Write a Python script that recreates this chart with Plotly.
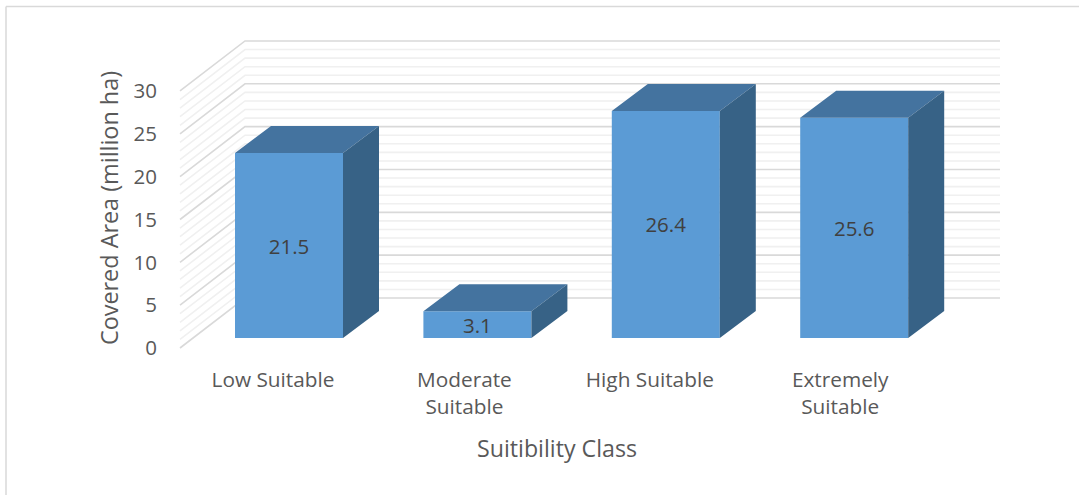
import plotly.graph_objects as go

categories = ["Low Suitable", "Moderate<br>Suitable", "High Suitable", "Extremely<br>Suitable"]
values = [21.5, 3.1, 26.4, 25.6]
value_labels = ["21.5", "3.1", "26.4", "25.6"]
major_ticks = [0, 5, 10, 15, 20, 25, 30]
minor_ticks = [1, 2, 3, 4, 6, 7, 8, 9, 11, 12, 13, 14, 16, 17, 18, 19, 21, 22, 23, 24, 26, 27, 28, 29]

W, H = 1079, 495
FONT = "Open Sans"
TXT = "#595959"

AXIS_TOP = 51
PLOT_BOTTOM = 365
PLOT_LEFT = 35
X0_PX, X_STEP = 289, 188.4
Y0_PX, Y_SCALE = 338, 8.6
AX0_PX, AX_SCALE = 348, 8.567
BAR_W = 108 / X_STEP
DEPTH_X = 36 / X_STEP
DEPTH_Y = 27 / Y_SCALE
WALL_LEFT = (180 - X0_PX) / X_STEP
WALL_BACK = (245 - X0_PX) / X_STEP
WALL_RIGHT = (1000 - X0_PX) / X_STEP
WALL_RISE = 50 / AX_SCALE
LABEL_SHIFTS = [16 / X_STEP, 13 / X_STEP, 16 / X_STEP, 14 / X_STEP]

positions = list(range(len(values)))


def wall_lines(ticks):
    xs, ys = [], []
    for t in ticks:
        xs += [WALL_LEFT, WALL_BACK, WALL_RIGHT, None]
        ys += [t, t + WALL_RISE, t + WALL_RISE, None]
    return xs, ys


fig = go.Figure()

# invisible anchor trace so the labelled value axis is drawn
fig.add_trace(go.Scatter(x=[WALL_LEFT] * len(major_ticks), y=major_ticks, yaxis="y3", mode="markers",
                         marker=dict(opacity=0), hoverinfo="skip", showlegend=False))

for ticks, color, width in [(minor_ticks, "#F0F0F0", 1.6), (major_ticks, "#D9D9D9", 1.6)]:
    xs, ys = wall_lines(ticks)
    fig.add_trace(go.Scatter(x=xs, y=ys, yaxis="y2", mode="lines",
                             line=dict(color=color, width=width),
                             hoverinfo="skip", showlegend=False))

fig.add_trace(go.Bar(x=positions, y=values, width=BAR_W,
                     marker=dict(color="#5B9BD5", line=dict(width=0)),
                     text=value_labels, textposition="inside",
                     insidetextanchor="middle", textangle=0,
                     insidetextfont=dict(family=FONT, size=20.5, color="#404040"),
                     showlegend=False))

top_x, top_y, side_x, side_y = [], [], [], []
for p, v in zip(positions, values):
    l, r = p - BAR_W / 2, p + BAR_W / 2
    top_x += [l, r, r + DEPTH_X, l + DEPTH_X, l, None]
    top_y += [v, v, v + DEPTH_Y, v + DEPTH_Y, v, None]
    side_x += [r, r + DEPTH_X, r + DEPTH_X, r, r, None]
    side_y += [0, DEPTH_Y, v + DEPTH_Y, v, 0, None]

fig.add_trace(go.Scatter(x=top_x, y=top_y, mode="lines", fill="toself", fillcolor="#44739F",
                         line=dict(width=0, color="#44739F"), hoverinfo="skip", showlegend=False))
fig.add_trace(go.Scatter(x=side_x, y=side_y, mode="lines", fill="toself", fillcolor="#376286",
                         line=dict(width=0, color="#376286"), hoverinfo="skip", showlegend=False))

fig.update_layout(
    width=W, height=H,
    margin=dict(l=0, r=0, t=0, b=0),
    paper_bgcolor="white", plot_bgcolor="rgba(0,0,0,0)",
    showlegend=False,
    uniformtext=dict(minsize=20.5, mode="show"),
    font=dict(family=FONT, color=TXT),
    xaxis=dict(
        domain=[PLOT_LEFT / W, 1],
        range=[(PLOT_LEFT - X0_PX) / X_STEP, (W - X0_PX) / X_STEP],
        tickmode="array",
        tickvals=[p - s for p, s in zip(positions, LABEL_SHIFTS)],
        ticktext=categories,
        tickfont=dict(family=FONT, size=20.8, color=TXT),
        tickangle=0,
        showgrid=False, zeroline=False, showline=False, ticks="",
        title=dict(text="Suitibility Class", font=dict(family=FONT, size=23.2, color=TXT), standoff=21),
    ),
    yaxis=dict(
        overlaying="y2",
        range=[-(PLOT_BOTTOM - Y0_PX) / Y_SCALE, Y0_PX / Y_SCALE],
        visible=False,
    ),
    yaxis2=dict(
        domain=[1 - PLOT_BOTTOM / H, 1],
        range=[-(PLOT_BOTTOM - AX0_PX) / AX_SCALE, AX0_PX / AX_SCALE],
        visible=False,
    ),
    yaxis3=dict(
        domain=[1 - PLOT_BOTTOM / H, 1 - AXIS_TOP / H],
        range=[-(PLOT_BOTTOM - AX0_PX) / AX_SCALE, (AX0_PX - AXIS_TOP) / AX_SCALE],
        anchor="free", position=157 / W, side="left",
        tickmode="array", tickvals=major_ticks,
        tickfont=dict(family=FONT, size=20.5, color=TXT),
        showgrid=False, zeroline=False, showline=False, ticks="",
        title=dict(text="Covered Area (million ha)", font=dict(family=FONT, size=23.4, color=TXT), standoff=7),
    ),
    shapes=[
        dict(type="line", xref="paper", yref="paper", x0=6 / W, x1=6 / W, y0=0, y1=1 - 6.5 / H,
             line=dict(color="#D9D9D9", width=1.5)),
        dict(type="line", xref="paper", yref="paper", x0=6 / W, x1=1, y0=1 - 6.5 / H, y1=1 - 6.5 / H,
             line=dict(color="#D9D9D9", width=1.5)),
    ],
)

fig.write_html("out.html", config={"displayModeBar": False},
               post_script="document.body.style.margin='0';")
